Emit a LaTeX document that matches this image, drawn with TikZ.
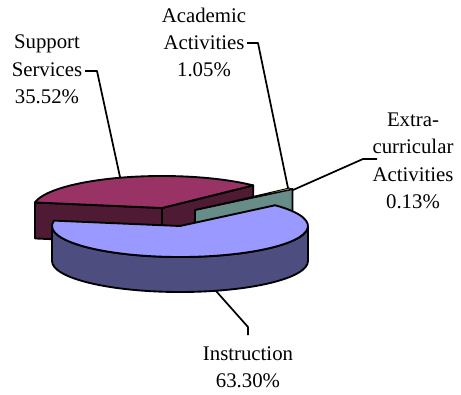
\documentclass[tikz,border=0pt]{standalone}
\usepackage{fontspec}
\setmainfont{Liberation Serif}
\usetikzlibrary{positioning,calc}
\definecolor{instrtop}{HTML}{9999FF}
\definecolor{instrside}{HTML}{4D4D80}
\definecolor{supptop}{HTML}{993366}
\definecolor{suppside}{HTML}{4F1A33}
\definecolor{acadside}{HTML}{688C88}
\definecolor{acadtop}{HTML}{FFFFCC}

\begin{document}
\begin{tikzpicture}[
    x=0.75pt, y=0.75pt,
    line width=1.4pt,
    line join=round,
    lbl/.style={
        align=center,
        inner sep=0pt,
        font=\fontsize{15.6}{20.5}\selectfont
        },
    face/.style={
        draw=black,
        fill=#1
        },
    lead/.style={
        draw=black,
        line width=1.3pt
        },
]
\useasboundingbox (0,0) rectangle (461,394);

\coordinate (S) at (162,186);
\coordinate (G) at (195,184);
\coordinate (I) at (180,168);

% support services
\coordinate (Sl) at ($(S)+(170:129 and 32)$);
\coordinate (Sr) at ($(S)+(45:129 and 32)$);
\draw[face=suppside] (S) -- (Sl) -- ++(0,-36) -- ($(S)+(0,-36)$) -- cycle;
\draw[face=suppside] (S) -- (Sr) -- ++(0,-36) -- ($(S)+(0,-36)$) -- cycle;
\draw[face=supptop] (S) -- (Sr) arc[start angle=45, end angle=170, x radius=129, y radius=32] -- cycle;

% academic + extra-curricular
\coordinate (Go) at (292.5,205);
\coordinate (Ga) at (289,205.9);
\draw[face=acadside] (G) -- (Go) -- ++(0,-36) -- ($(G)+(0,-36)$) -- cycle;
\draw[face=acadtop, line width=0.7pt] (G) -- (Go) -- (Ga) -- cycle;

% instruction
\coordinate (Il) at ($(I)+(170:128 and 31)$);
\coordinate (Ir) at ($(I)+(42:128 and 31)$);
\draw[face=instrside] ($(I)+(180:128 and 31)$) arc[start angle=180, end angle=360, x radius=128, y radius=31]
    -- ++(0,-35) arc[start angle=360, end angle=180, x radius=128, y radius=31] -- cycle;
\draw[face=instrtop] (I) -- (Il) arc[start angle=170, end angle=402, x radius=128, y radius=31] -- cycle;

% labels
\node[lbl] (supp) at (47,324.5) {Support\\Services\\35.52\%};
\node[lbl] (acad) at (204,351.5) {Academic\\Activities\\1.05\%};
\node[lbl] (extra) at (413,233) {Extra-\\curricular\\Activities\\0.13\%};
\node[lbl] (instr) at (248,26.5) {Instruction\\63.30\%};

\coordinate (supp1) at (85,323);
\coordinate (supp2) at (97,323);
\coordinate (supp3) at (120,217);
\coordinate (acad1) at (247,351);
\coordinate (acad2) at (258,351);
\coordinate (acad3) at (288,206);
\coordinate (extra1) at (293,204);
\coordinate (extra2) at (363,235);
\coordinate (extra3) at (377,235);
\coordinate (instr1) at (216,103);
\coordinate (instr2) at (248,67);
\coordinate (instr3) at (248,59);

\draw[lead] (supp1) -- (supp2) -- (supp3);
\draw[lead] (acad1) -- (acad2) -- (acad3);
\draw[lead] (extra1) -- (extra2) -- (extra3);
\draw[lead] (instr1) -- (instr2) -- (instr3);

\end{tikzpicture}
\end{document}
